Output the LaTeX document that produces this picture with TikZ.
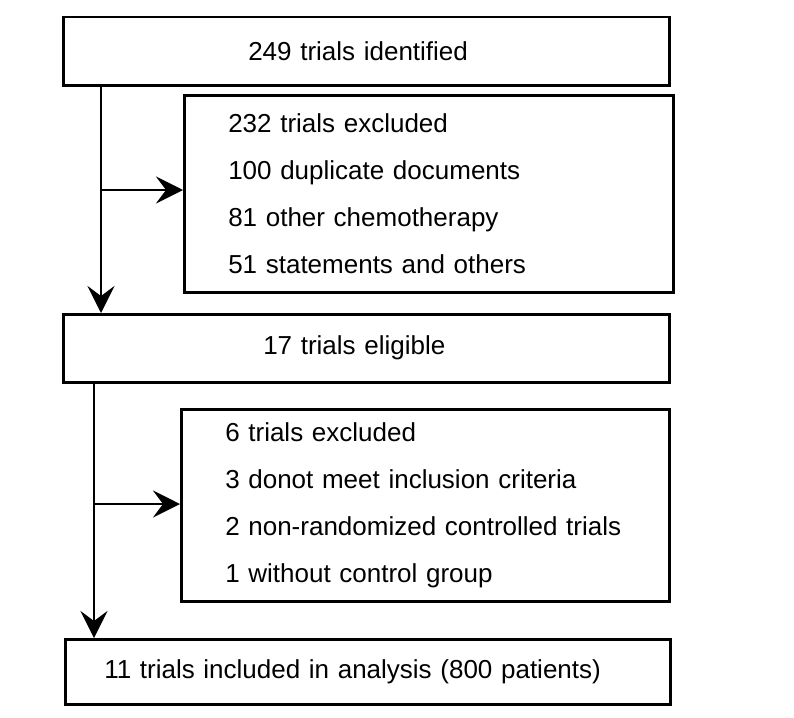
\documentclass[tikz,border=0pt]{standalone}
\usepackage{fontspec}
\setmainfont{Liberation Sans}
\usetikzlibrary{arrows.meta}

\begin{document}
\begin{tikzpicture}[x=1pt, y=-1pt,
		box/.style={draw, line width=2.5pt, anchor=north west, inner sep=0pt, align=left, font=\fontsize{26}{46.7}\selectfont},
		listbox/.style={box, inner xsep=44pt, text width=#1},
		flow/.style={line width=2.5pt, -{Stealth[length=27pt, width=27pt, inset=10pt]}}]
		\useasboundingbox (0,0) rectangle (794,717);

		\node[box, inner xsep=185pt, text width=236pt, minimum height=68pt] (ident) at (62,16) {249 trials identified};
		\node[listbox=401pt, minimum height=197pt] (excl1) at (183,94) {232 trials excluded\\100 duplicate documents\\81 other chemotherapy\\51 statements and others};
		\node[box, inner xsep=200pt, text width=206pt, minimum height=68pt] (elig) at (62,313) {17 trials eligible};
		\node[listbox=400pt, minimum height=192pt] (excl2) at (180,408) {6 trials excluded\\3 donot meet inclusion criteria\\2 non-randomized controlled trials\\1 without control group};
		\node[box, inner xsep=39pt, text width=527pt, minimum height=65pt] (incl) at (64,638) {11 trials included in analysis (800 patients)};

		\coordinate (b1) at (101,190);
		\coordinate (b2) at (94,504);

		\draw[flow] ([xshift=39pt]ident.south west) coordinate (t1) -- (t1 |- elig.north);
		\draw[flow] (b1) -- (b1 -| excl1.west);
		\draw[flow] ([xshift=32pt]elig.south west) coordinate (t2) -- (t2 |- incl.north);
		\draw[flow] (b2) -- (b2 -| excl2.west);
	\end{tikzpicture}
\end{document}
